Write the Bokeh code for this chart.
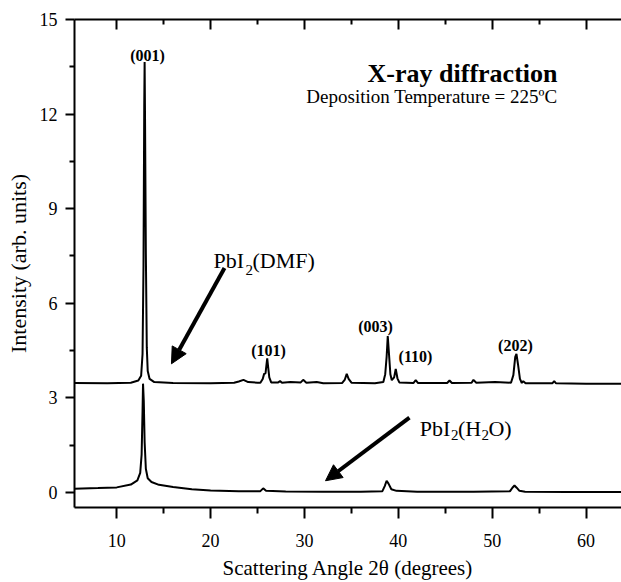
from bokeh.plotting import figure
from bokeh.models import (Range1d, LinearAxis, FixedTicker, Label, Arrow, NormalHead, ColumnDataSource,
                          CustomJSTickFormatter)
from bokeh.core.properties import value
from bokeh.embed import file_html
from bokeh.resources import INLINE

# ---- data ----
dmf_angle = [5.5, 9.0, 11.5, 12.3, 12.6, 12.75, 12.85, 12.93, 12.97, 13.02, 13.1, 13.2, 13.3, 13.5, 14.0,
             16.0, 20.0, 22.5, 23.0, 23.5, 24.0, 25.0, 25.3, 25.55, 25.7, 25.85, 25.97, 26.03, 26.12, 26.25,
             26.45, 27.2, 27.4, 27.6, 28.5, 29.6, 29.86, 30.2, 31.3, 32.0, 34.0, 34.3, 34.5, 34.7, 35.0,
             37.5, 38.4, 38.6, 38.75, 38.87, 39.0, 39.15, 39.3, 39.55, 39.72, 39.9, 40.1, 41.6, 41.85, 42.1,
             45.2, 45.45, 45.7, 47.8, 48.0, 48.3, 50.3, 52.0, 52.25, 52.45, 52.58, 52.75, 52.95, 53.15,
             53.3, 53.55, 56.4, 56.6, 56.8, 60.0, 63.8]
dmf_int = [3.47, 3.46, 3.48, 3.55, 3.7, 4.4, 7.2, 12.3, 13.65, 11.6, 7.6, 4.6, 3.85, 3.6, 3.5,
           3.47, 3.46, 3.48, 3.52, 3.57, 3.5, 3.48, 3.48, 3.6, 3.76, 3.78, 4.1, 4.25, 4.0, 3.65,
           3.49, 3.49, 3.53, 3.48, 3.5, 3.49, 3.57, 3.48, 3.5, 3.46, 3.47, 3.58, 3.76, 3.6, 3.48,
           3.46, 3.5, 3.75, 4.3, 4.96, 4.4, 3.75, 3.56, 3.65, 3.92, 3.62, 3.49, 3.47, 3.56, 3.47,
           3.47, 3.55, 3.47, 3.48, 3.57, 3.48, 3.5, 3.48, 3.72, 4.3, 4.39, 4.05, 3.6, 3.47,
           3.53, 3.46, 3.46, 3.53, 3.46, 3.45, 3.45]

h2o_angle = [5.5, 8.0, 10.0, 11.5, 12.2, 12.5, 12.65, 12.75, 12.8, 12.88, 12.97, 13.1, 13.3, 13.7, 14.5,
             16.0, 18.0, 20.0, 23.0, 25.3, 25.6, 25.9, 28.0, 32.0, 36.0, 38.3, 38.55, 38.75, 38.95, 39.25,
             39.8, 42.0, 48.0, 51.9, 52.15, 52.37, 52.6, 52.9, 53.5, 58.0, 63.8]
h2o_int = [0.12, 0.14, 0.16, 0.25, 0.38, 0.62, 1.2, 2.6, 3.45, 2.9, 1.6, 0.75, 0.45, 0.33, 0.24,
           0.17, 0.1, 0.06, 0.04, 0.04, 0.13, 0.05, 0.03, 0.02, 0.02, 0.04, 0.2, 0.37, 0.28, 0.1,
           0.05, 0.02, 0.02, 0.04, 0.15, 0.22, 0.15, 0.05, 0.02, 0.01, 0.01]

peak_names = ["(001)", "(101)", "(003)", "(110)", "(202)"]
x_ticks = [10, 20, 30, 40, 50, 60]
x_minor = [5, 15, 25, 35, 45, 55, 65]
y_ticks = [0, 3, 6, 9, 12, 15]
y_minor = [1.5, 4.5, 7.5, 10.5, 13.5]

# ---- layout positions for annotations (data coordinates) ----
peak_x = [13.28, 26.17, 37.56, 41.82, 52.47]
peak_y = [13.87, 4.49, 5.27, 4.30, 4.65]

FONT = "Liberation Serif"

p = figure(width=621, height=582, x_range=Range1d(5.5, 63.77), y_range=Range1d(-0.478, 15.0),
           output_backend="svg", toolbar_location=None, x_axis_location="above",
           min_border_left=74, min_border_right=0, min_border_top=19, min_border_bottom=68)
p.grid.visible = False
p.outline_line_color = None
p.background_fill_color = "white"
p.border_fill_color = "white"

p.line(dmf_angle, dmf_int, line_color="black", line_width=2)
p.line(h2o_angle, h2o_int, line_color="black", line_width=2)

src = ColumnDataSource(dict(x=peak_x, y=peak_y, t=peak_names))
p.text(x="x", y="y", text="t", source=src, text_align="center", text_baseline="alphabetic",
       text_font=value(FONT), text_font_style="bold", text_font_size="16px", text_color="black")

def style_axis(ax, ticks, minor, tick_out, minor_out):
    ax.ticker = FixedTicker(ticks=ticks, minor_ticks=minor)
    ax.axis_line_width = 2
    ax.axis_line_color = "black"
    ax.major_tick_line_width = 2
    ax.minor_tick_line_width = 2
    ax.major_tick_line_color = "black"
    ax.minor_tick_line_color = "black"
    ax.major_tick_out = tick_out
    ax.major_tick_in = 0
    ax.minor_tick_out = minor_out
    ax.minor_tick_in = 0
    ax.major_label_text_font = FONT
    ax.major_label_text_font_size = "18px"
    ax.major_label_text_color = "black"
    ax.axis_label_text_font = FONT
    ax.axis_label_text_font_style = "normal"
    ax.axis_label_text_color = "black"

# top axis: ticks pointing in, no labels
ta = p.xaxis[0]
style_axis(ta, x_ticks, x_minor, 0, 0)
ta.major_tick_in = 10
ta.minor_tick_in = 5
ta.formatter = CustomJSTickFormatter(code="return ''")
ta.major_label_standoff = 0

# bottom axis
xa = LinearAxis()
style_axis(xa, x_ticks, x_minor, 11, 6)
xa.major_label_standoff = 15
xa.axis_label = "Scattering Angle 2θ (degrees)"
xa.axis_label_text_font_size = "21px"
xa.axis_label_standoff = 6
p.add_layout(xa, "below")

ya = p.yaxis[0]
style_axis(ya, y_ticks, y_minor, 9, 5)
ya.major_label_standoff = 8
ya.axis_label = "Intensity (arb. units)"
ya.axis_label_text_font_size = "22px"
ya.axis_label_standoff = 6

# titles
p.add_layout(Label(x=56.95, y=13.3, text="X-ray diffraction", text_align="right", text_baseline="alphabetic",
                   text_font=FONT, text_font_style="bold", text_font_size="26px", text_color="black"))
p.add_layout(Label(x=56.95, y=12.56, text="Deposition Temperature = 225ºC", text_align="right",
                   text_baseline="alphabetic", text_font=FONT, text_font_size="19px", text_color="black"))

def lab(x, y, t, size):
    p.add_layout(Label(x=x, y=y, text=t, text_align="left", text_baseline="alphabetic",
                       text_font=FONT, text_font_size=size, text_color="black"))

# PbI2(DMF)
lab(20.31, 7.37, "PbI", "22px")
lab(23.71, 7.06, "2", "15px")
lab(24.46, 7.37, "(DMF)", "22px")
# PbI2(H2O)
lab(42.28, 2.04, "PbI", "22px")
lab(45.61, 1.83, "2", "15px")
lab(46.35, 2.04, "(H", "22px")
lab(48.85, 1.83, "2", "15px")
lab(49.6, 2.04, "O)", "22px")

# arrows
for (xs, ys, xe, ye) in [(21.48, 7.12, 15.83, 4.08), (41.18, 2.37, 32.24, 0.37)]:
    p.add_layout(Arrow(end=NormalHead(size=16, fill_color="black", line_color="black"),
                       x_start=xs, y_start=ys, x_end=xe, y_end=ye,
                       line_width=4, line_color="black"))

open("out.html", "w").write(file_html(p, INLINE))
